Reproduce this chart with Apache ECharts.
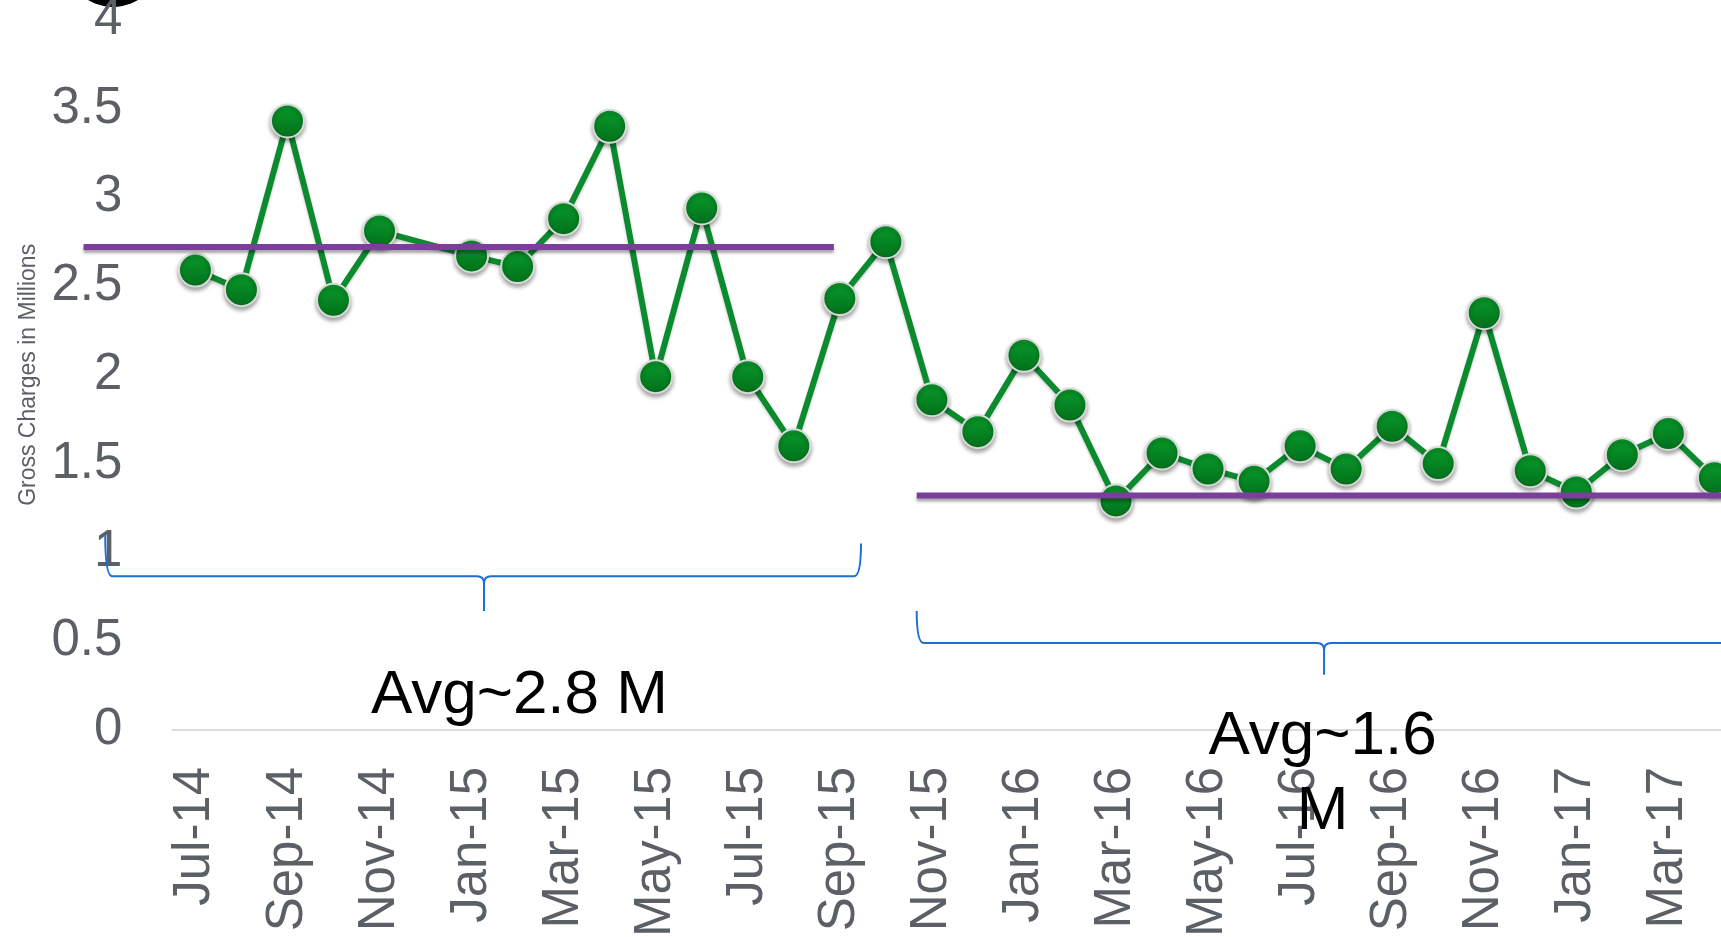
<!DOCTYPE html>
<html>
<head>
<meta charset="utf-8">
<script src="https://cdn.jsdelivr.net/npm/echarts@6/dist/echarts.min.js"></script>
<style>
html,body{margin:0;padding:0;background:#fff;}
#chart{width:1721px;height:937px;}
</style>
</head>
<body>
<div id="chart"></div>
<script>
// ---- data ----
const months = ['Jul-14','Aug-14','Sep-14','Oct-14','Nov-14','Dec-14','Jan-15','Feb-15','Mar-15','Apr-15','May-15','Jun-15','Jul-15','Aug-15','Sep-15','Oct-15','Nov-15','Dec-15','Jan-16','Feb-16','Mar-16','Apr-16','May-16','Jun-16','Jul-16','Aug-16','Sep-16','Oct-16','Nov-16','Dec-16','Jan-17','Feb-17','Mar-17','Apr-17'];
const grossCharges = [2.59,2.48,3.43,2.42,2.81,null,2.67,2.61,2.88,3.40,1.99,2.94,1.99,1.60,2.43,2.75,1.86,1.68,2.11,1.83,1.29,1.56,1.47,1.40,1.60,1.47,1.71,1.50,2.35,1.46,1.34,1.55,1.67,1.42];
const yTicks = [0,0.5,1,1.5,2,2.5,3,3.5,4];
const avgLevels = [2.72, 1.32];
const avgSpans = [[-2.43, 13.87], [15.67, 36]];           // in month-index units
const braceSpans = [[-1.96, 6.27, 14.46], [15.67, 24.52, 36]];
const braceLevels = [[1.10, 1.05, 0.865, 0.67], [0.67, 0.67, 0.49, 0.31]];
const annotationTexts = ['Avg~2.8 M', 'Avg~1.6\nM'];
const annotationAt = [[7.04, 0.19], [24.49, -0.25]];
const yAxisTitle = 'Gross Charges in Millions';

// ---- chart ----
const chart = echarts.init(document.getElementById('chart'), null, {renderer:'canvas'});
const FONT = 'Liberation Sans, Arial, sans-serif';
const GRAY = '#5b5f66';

const braceData = braceSpans.map((s, i) => s.concat(braceLevels[i]));
const avgData = avgLevels.map((v, i) => [avgSpans[i][0], avgSpans[i][1], v]);

option = {
  animation: false,
  backgroundColor: '#fff',
  grid: {left: 172.4, right: -16.4, top: 19.8, bottom: 207.1, containLabel: false, outerBoundsMode: 'none'},
  xAxis: [{
    type: 'category',
    data: months,
    boundaryGap: true,
    axisLine: {show: true, lineStyle: {color: '#dcdcdc', width: 2}},
    axisTick: {show: false},
    splitLine: {show: false},
    axisLabel: {rotate: 90, interval: 1, fontSize: 51, color: GRAY, fontFamily: FONT, margin: 37}
  }, {
    type: 'value',
    min: -0.5, max: months.length - 0.5,
    show: false
  }],
  yAxis: [{
    type: 'value',
    min: yTicks[0], max: yTicks[yTicks.length - 1], interval: yTicks[1] - yTicks[0],
    axisLine: {show: false},
    axisTick: {show: false},
    splitLine: {show: false},
    axisLabel: {fontSize: 51, color: GRAY, fontFamily: FONT, margin: 50},
    name: yAxisTitle,
    nameLocation: 'middle',
    nameGap: 132,
    nameTextStyle: {fontSize: 23, color: GRAY, fontFamily: FONT}
  }],
  graphic: [{
    type: 'circle',
    shape: {cx: 113, cy: -41, r: 48},
    style: {fill: '#000'}
  }],
  series: [{
    type: 'line',
    xAxisIndex: 0, yAxisIndex: 0,
    data: grossCharges,
    connectNulls: true,
    showAllSymbol: true,
    clip: false,
    symbol: 'circle',
    symbolSize: 33,
    z: 4,
    lineStyle: {color: '#0b8a2e', width: 6, shadowColor: 'rgba(0,0,0,0.2)', shadowBlur: 3, shadowOffsetY: 2},
    itemStyle: {
      color: new echarts.graphic.LinearGradient(0, 0, 0, 1, [
        {offset: 0, color: '#0a9e2c'}, {offset: 1, color: '#006d1a'}
      ]),
      borderColor: '#d9d9d9', borderWidth: 2,
      shadowColor: 'rgba(0,0,0,0.35)', shadowBlur: 4, shadowOffsetY: 3
    }
  }, {
    type: 'custom',
    xAxisIndex: 1, yAxisIndex: 0,
    clip: false,
    silent: true,
    z: 5,
    data: avgData,
    renderItem: function (params, api) {
      const a = api.coord([api.value(0), api.value(2)]);
      const b = api.coord([api.value(1), api.value(2)]);
      return {
        type: 'line',
        shape: {x1: a[0], y1: a[1], x2: b[0], y2: b[1]},
        style: {stroke: '#7a3f98', lineWidth: 6, shadowColor: 'rgba(0,0,0,0.35)', shadowBlur: 3, shadowOffsetY: 3}
      };
    }
  }, {
    type: 'custom',
    xAxisIndex: 1, yAxisIndex: 0,
    clip: false,
    silent: true,
    z: 3,
    data: braceData,
    renderItem: function (params, api) {
      const x0 = api.value(0), xm = api.value(1), x1 = api.value(2);
      const yE0 = api.value(3), yE1 = api.value(4), yL = api.value(5), yT = api.value(6);
      const a = api.coord([x0, yE0]);
      const b = api.coord([x1, yE1]);
      const m = api.coord([xm, yL]);
      const t = api.coord([xm, yT]);
      const ly = m[1];
      const r = 7;
      const d = `M${a[0]} ${a[1]} Q${a[0]} ${ly} ${a[0] + r} ${ly} L${m[0] - r} ${ly} Q${m[0]} ${ly} ${m[0]} ${ly + r} L${m[0]} ${t[1]} M${m[0]} ${ly + r} Q${m[0]} ${ly} ${m[0] + r} ${ly} L${b[0] - r} ${ly} Q${b[0]} ${ly} ${b[0]} ${b[1]}`;
      return {type: 'path', shape: {pathData: d}, style: {stroke: '#1f6fcf', fill: null, lineWidth: 2}};
    }
  }, {
    type: 'custom',
    xAxisIndex: 1, yAxisIndex: 0,
    clip: false,
    silent: true,
    z: 6,
    data: annotationAt.map((p, i) => [p[0], p[1], i]),
    renderItem: function (params, api) {
      const p = api.coord([api.value(0), api.value(1)]);
      return {
        type: 'text', x: p[0], y: p[1],
        style: {text: annotationTexts[api.value(2)], fill: '#000', font: '62px ' + FONT,
                align: 'center', verticalAlign: 'middle', lineHeight: 75}
      };
    }
  }]
};
chart.setOption(option);
</script>
</body>
</html>
